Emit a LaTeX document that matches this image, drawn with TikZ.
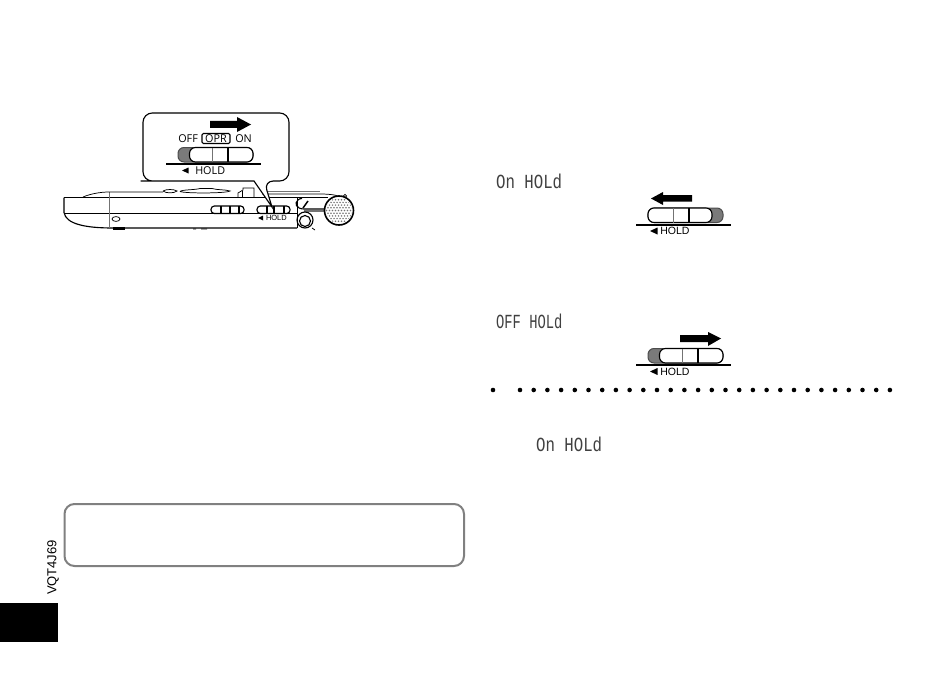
\documentclass[tikz,border=0pt]{standalone}
\usepackage{fontspec}
\setmainfont{Liberation Sans}
\newfontfamily\lcdfont{Liberation Mono}
\newfontfamily\uifont{Open Sans}
\tikzset{
  px/.style={x=0.75pt,y=-0.75pt},
  ln/.style={line width=0.85pt,black},
  thinln/.style={line width=0.55pt,black},
  greyln/.style={line width=0.7pt,black!55},
  lcd/.style={inner sep=0,anchor=west,font=\lcdfont\fontsize{15}{15}\selectfont,text=black!75,transform shape},
  lbl/.style={inner sep=0,font=\uifont\fontsize{8.1}{8}\selectfont},
  smalllbl/.style={inner sep=0,anchor=west,font=\fontsize{7.9}{8}\selectfont},
  tinylbl/.style={inner sep=0,anchor=west,font=\fontsize{5.6}{6}\selectfont},
  bigarrow/.style={fill=black,draw=none},
  sldgrey/.style={fill=black!52,draw=black!70,line width=0.75pt},
}
\newcommand{\sliderL}[2]{% grey on the right
  \fill[sldgrey,rounded corners=4.5pt] (#1,#2) rectangle ++(75,14.5);
  \draw[ln,fill=white,rounded corners=4.5pt] (#1,#2) rectangle ++(64,14.5);
  \draw[greyln] (#1+25,#2) -- ++(0,14.5);
  \draw[ln] (#1+41,#2) -- ++(0,14.5);
}
\newcommand{\sliderR}[2]{% grey on the left
  \fill[sldgrey,rounded corners=4.5pt] (#1,#2) rectangle ++(75,14.5);
  \draw[ln,fill=white,rounded corners=4.5pt] (#1+11.5,#2) rectangle ++(63.5,14.5);
  \draw[greyln] (#1+34,#2) -- ++(0,14.5);
  \draw[ln] (#1+50,#2) -- ++(0,14.5);
}
\begin{document}
\begin{tikzpicture}[px]
\useasboundingbox[fill=white] (0,0) rectangle (950,674);
% ---- device body
\draw[ln] (64,197.5) -- (64,212.5) .. controls (66,224) and (85,228) .. (113,228) -- (297,228);
\draw[ln] (64,197.5) -- (328,197.5);
\draw[thinln] (64,213) -- (297,213);
\draw[greyln] (109,192) -- (109,228);
\draw[thinln] (83,197) .. controls (90,194) and (100,192) .. (109,192) -- (163,192);
\draw[thinln] (163,191) .. controls (166,189) and (174,189) .. (177,191) .. controls (174,193.5) and (166,193.5) .. (163,191);
\draw[thinln] (180,191.5) .. controls (182,189.5) and (195,190) .. (200,188.5) -- (212,188.5) .. controls (216,190) and (226,189.5) .. (230,191) .. controls (226,193.5) and (185,193.5) .. (180,191.5);
\draw[thinln] (238,197) -- (238,193) -- (243,190) -- (243,188) -- (254,188) -- (254,197);
\draw[thinln] (242,197) -- (242,191);
\draw[thinln] (262,194) -- (320,194) .. controls (330,194) and (338,195) .. (343,198);
\draw[greyln,line width=1.4pt] (262,191.5) -- (320,191.5);
\fill[black] (113,226.5) rectangle (125,229.5);
\draw[thinln] (116,219) ellipse [x radius=4, y radius=2.4];
\draw[thinln] (193,229) -- (196,229) (201,229) -- (207,229) (312,228) -- (315,230);
% device sliders
\draw[ln,rounded corners=2.5pt] (211,206) rectangle (244,213.5);
\draw[ln] (221,206) -- (221,213.5) (230,206) -- (230,213.5) (239,206) -- (239,213.5);
\draw[ln,rounded corners=2.5pt] (257,206) rectangle (290,213.5);
\draw[ln] (267,206) -- (267,213.5) (274,206) -- (274,213.5) (284,206) -- (284,213.5);
\fill[black] (258,218) -- (263,215.5) -- (263,220.5) -- cycle;
\node[tinylbl] (devhold) at (264.5,218) {\,HOLD};
% right section
\draw[thinln] (297,197.5) -- (297,228);
\draw[ln] (326,209) -- (304,209) .. controls (296,209) and (294,203) .. (298,200) .. controls (299,199) and (300,198.5) .. (302,198.5);
\draw[greyln,line width=1.4pt] (304,211) -- (326,211);
\draw[line width=1.1pt] (303,208) -- (308,201);
\draw[ln] (305,220) circle [radius=8];
\draw[ln] (305,221) circle [radius=5.5];
\fill[white] (339,210.5) circle [radius=15];
\begin{scope}
  \clip (339,210.5) circle [radius=13];
  \foreach \r in {0,...,10} \foreach \c in {0,...,10}
    \fill[black!55] ({325+\c*3+mod(\r,2)*1.5},{197+\r*2.7}) circle [radius=0.85];
\end{scope}
\draw[line width=1.2pt] (339,210.5) circle [radius=14.5];
\draw[thinln] (345,196) circle [radius=1.7];
% ---- callout
\draw[ln,fill=white,rounded corners=7pt]
  (254,181) -- (150,181) -- (143,181) -- (143,113) -- (289,113) -- (289,181) -- (264,181)
  [sharp corners] -- (272,207) -- (254,181) -- cycle;
\fill[white] (255,179.5) -- (263.5,179.5) -- (263.5,181) -- (255,181) -- cycle;
\draw[bigarrow,fill] (210,121) -- (237,121) -- (237,117) -- (251,124.5) -- (237,132) -- (237,128) -- (210,128) -- cycle;
\node[lbl,anchor=west] (off) at (178,138.5) {OFF};
\node[lbl,draw,line width=0.85pt,rounded corners=1pt,minimum width=21pt,minimum height=7.5pt] (opr) at (216,138.5) {OPR};
\node[lbl,anchor=west] (on) at (235,138.5) {ON};
\sliderR{178}{147.5}
\draw[ln] (166,164) -- (261,164);
\fill[black] (182,170.5) -- (188.5,167.5) -- (188.5,173.5) -- cycle;
\node[lbl,anchor=west] (hold0) at (195,170.5) {HOLD};
% ---- On HOLd 1
\node[lcd,xscale=.785] (lcdon) at (496,181.5) {On HOLd};
\draw[bigarrow,fill] (692,195) -- (663,195) -- (663,192) -- (651,198.5) -- (663,205) -- (663,201.5) -- (692,201.5) -- cycle;
\sliderL{648}{208}
\draw[ln] (636,225) -- (731,225);
\fill[black] (650,231) -- (657.5,227.5) -- (657.5,234.5) -- cycle;
\node[smalllbl] (hold1) at (660,231) {HOLD};
% ---- OFF HOLd
\node[lcd,xscale=.69] (lcdoff) at (496,321.5) {OFF HOLd};
\draw[bigarrow,fill] (680,335) -- (708,335) -- (708,332) -- (721,338.5) -- (708,346) -- (708,342) -- (680,342) -- cycle;
\sliderR{648}{348.5}
\draw[ln] (636,365) -- (731,365);
\fill[black] (650,371.5) -- (657.5,368) -- (657.5,375) -- cycle;
\node[smalllbl] (hold2) at (660,371.5) {HOLD};
% ---- dots
\fill (493,390) circle [radius=2.3];
\foreach \i in {0,...,27} \fill ({520+\i*13.7},390) circle [radius=2.3];
\node[lcd,xscale=.785] (lcdon2) at (536,444) {On HOLd};
% ---- note box
\draw[line width=1.5pt,black!50,rounded corners=7.5pt] (64.5,504) rectangle (464,566);
% ---- page tab
\fill[black] (0,603) rectangle (58,642);
\node[inner sep=0,rotate=90,font=\fontsize{9.75}{10}\selectfont] (code) at (53,567.5) {VQT4J69};
\end{tikzpicture}
\end{document}
